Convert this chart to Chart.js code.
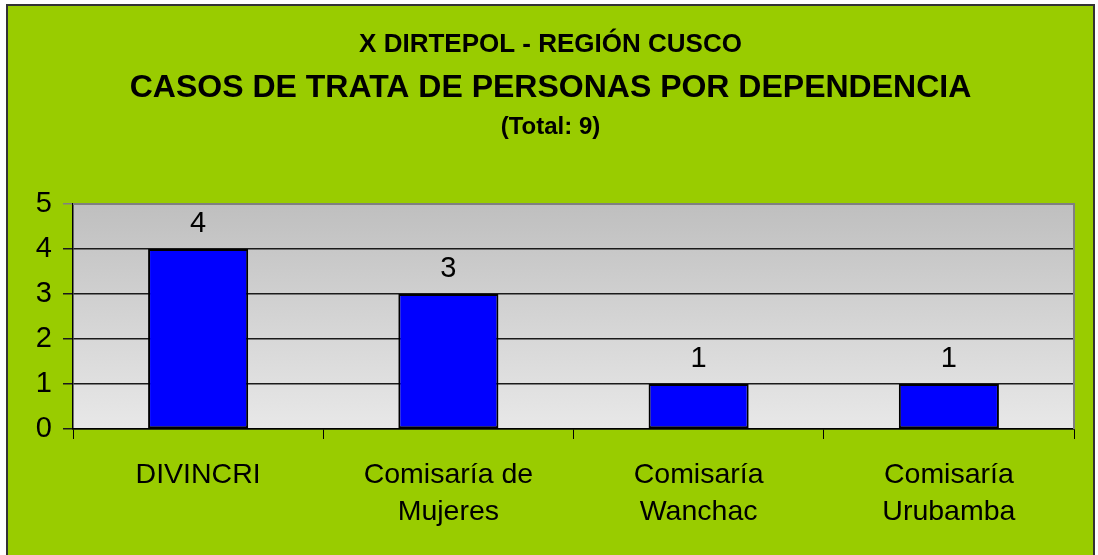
<!DOCTYPE html>
<html>
<head>
<meta charset="utf-8">
<script src="https://cdn.jsdelivr.net/npm/chart.js@4"></script>
<style>
    html, body { margin: 0; padding: 0; background: #ffffff; }
    canvas { display: block; }
</style>
</head>
<body>
<canvas id="chart" width="1098" height="555"></canvas>
<script>
const categories = [["DIVINCRI"], ["Comisaría de", "Mujeres"], ["Comisaría", "Wanchac"], ["Comisaría", "Urubamba"]];
const casos = [4, 3, 1, 1];
const yTicks = [0, 1, 2, 3, 4, 5];
const titleLines = ["X DIRTEPOL - REGIÓN CUSCO", "CASOS DE TRATA DE PERSONAS POR DEPENDENCIA", "(Total: 9)"];

const FONT = "'Liberation Sans', Arial, sans-serif";

// fondo verde, caja, titulos y degradado del area de trazado
const backgroundPlugin = {
    id: "fondo",
    beforeDraw(chart) {
        const ctx = chart.ctx;
        const area = chart.chartArea;
        ctx.save();
        ctx.fillStyle = "#ffffff";
        ctx.fillRect(0, 0, chart.width, chart.height);
        ctx.fillStyle = "#99cc00";
        ctx.fillRect(7, 5, 1087, 560);
        ctx.strokeStyle = "#333333";
        ctx.lineWidth = 2;
        ctx.strokeRect(7, 5, 1087, 560);

        const grad = ctx.createLinearGradient(0, area.top, 0, area.bottom);
        grad.addColorStop(0, "#bfbfbf");
        grad.addColorStop(1, "#e8e8e8");
        ctx.fillStyle = grad;
        ctx.fillRect(area.left, area.top, area.right - area.left, area.bottom - area.top);

        ctx.fillStyle = "#000000";
        ctx.textAlign = "center";
        ctx.textBaseline = "middle";
        const cx = (7 + 1094) / 2;
        ctx.font = "bold 26px " + FONT;
        ctx.fillText(titleLines[0], cx, 45);
        ctx.font = "bold 32px " + FONT;
        ctx.fillText(titleLines[1], cx, 88);
        ctx.font = "bold 24px " + FONT;
        ctx.fillText(titleLines[2], cx, 127);
        ctx.restore();
    },
    afterDatasetsDraw(chart) {
        const ctx = chart.ctx;
        const area = chart.chartArea;
        ctx.save();
        ctx.strokeStyle = "#808080";
        ctx.lineWidth = 2;
        ctx.beginPath();
        ctx.moveTo(area.left, area.top);
        ctx.lineTo(area.right, area.top);
        ctx.lineTo(area.right, area.bottom);
        ctx.stroke();

        // valores encima de las barras
        const meta = chart.getDatasetMeta(0);
        ctx.fillStyle = "#000000";
        ctx.font = "29px " + FONT;
        ctx.textAlign = "center";
        ctx.textBaseline = "alphabetic";
        meta.data.forEach((bar, i) => {
            ctx.fillText(String(casos[i]), bar.x, bar.y - 17);
        });
        ctx.restore();
    }
};

new Chart(document.getElementById("chart").getContext("2d"), {
    type: "bar",
    data: {
        labels: categories,
        datasets: [{
            data: casos,
            backgroundColor: "#0000ff",
            borderColor: "#000000",
            borderWidth: 2,
            borderSkipped: false,
            barPercentage: 0.4,
            categoryPercentage: 1.0
        }]
    },
    options: {
        responsive: false,
        animation: false,
        layout: { padding: { top: 204, left: 0, right: 24, bottom: 0 } },
        plugins: {
            legend: { display: false },
            title: { display: false },
            tooltip: { enabled: false }
        },
        scales: {
            x: {
                afterFit: (scale) => { scale.height = 126; },
                grid: {
                    offset: true,
                    drawOnChartArea: false,
                    color: "#000000",
                    tickLength: 10,
                    lineWidth: 1
                },
                border: { display: true, color: "#000000", width: 1.5 },
                ticks: {
                    color: "#000000",
                    font: { family: FONT, size: 28.5, lineHeight: 1.3 },
                    padding: 18,
                    maxRotation: 0,
                    autoSkip: false
                }
            },
            y: {
                min: yTicks[0],
                max: yTicks[yTicks.length - 1],
                afterFit: (scale) => { scale.width = 73; },
                afterBuildTicks: (scale) => { scale.ticks = yTicks.map(v => ({ value: v })); },
                grid: {
                    color: (c) => c.tick && c.tick.value === 5 ? "#808080" : "#1a1a1a",
                    lineWidth: 1.5,
                    tickLength: 10
                },
                border: { display: true, color: "#000000", width: 1.5 },
                ticks: {
                    stepSize: 1,
                    color: "#000000",
                    font: { family: FONT, size: 29 },
                    padding: 11
                }
            }
        }
    },
    plugins: [backgroundPlugin]
});
</script>
</body>
</html>
